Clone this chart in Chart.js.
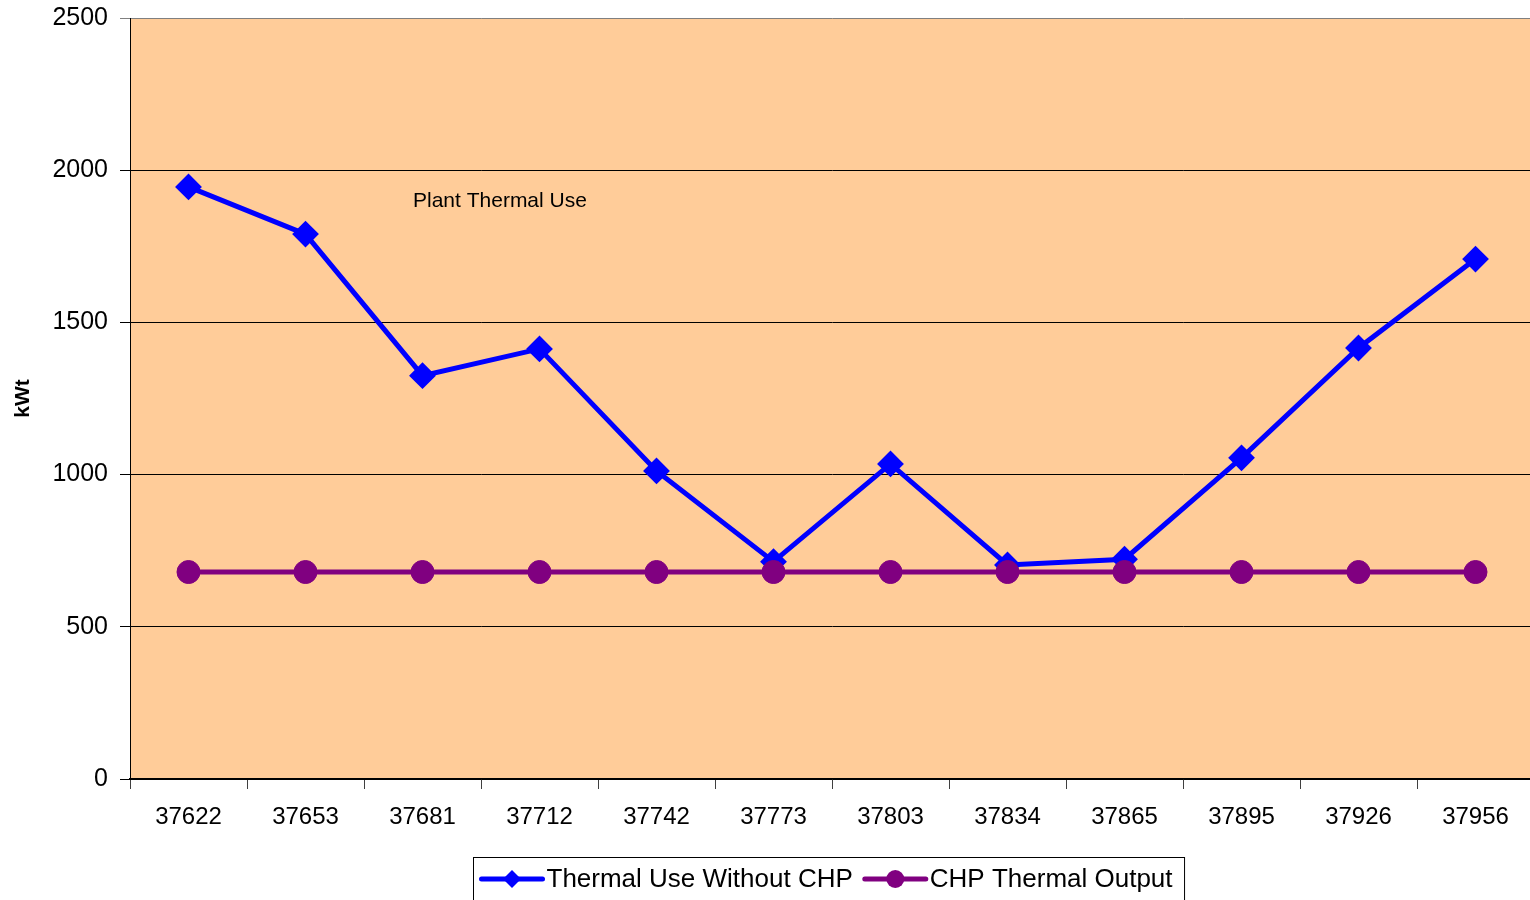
<!DOCTYPE html>
<html>
<head>
<meta charset="utf-8">
<script src="https://cdn.jsdelivr.net/npm/chart.js@4"></script>
<style>
  html, body { margin: 0; padding: 0; background: #fff; overflow: hidden; }
  #wrap { width: 1530px; height: 900px; overflow: hidden; }
</style>
</head>
<body>
<div id="wrap"><canvas id="chart" width="1548" height="900"></canvas></div>
<script>
const categories = ['37622', '37653', '37681', '37712', '37742', '37773', '37803', '37834', '37865', '37895', '37926', '37956'];
const thermalUseWithoutChp = [1945, 1790, 1325, 1413, 1012, 714, 1035, 703, 722, 1055, 1416, 1708];
const chpThermalOutput = [680, 680, 680, 680, 680, 680, 680, 680, 680, 680, 680, 680];
const yTicks = [0, 500, 1000, 1500, 2000, 2500];
const annotationText = 'Plant Thermal Use';

const FONT = "'Liberation Sans', Arial, sans-serif";
const BLUE = '#0000FF', PURPLE = '#800080';

// plot background
const plotBg = {
    id: 'plotBg',
    beforeDraw: (chart) => {
        const { ctx, chartArea: a } = chart;
        ctx.save();
        ctx.fillStyle = '#FFCC99';
        ctx.fillRect(a.left, a.top, a.right - a.left, a.bottom - a.top);
        ctx.restore();
    }
};

// text inside the plot + legend box underneath
const extras = {
    id: 'extras',
    afterDraw: (chart) => {
        const { ctx, chartArea: a } = chart;
        ctx.save();
        ctx.fillStyle = '#000';
        ctx.font = `21px ${FONT}`;
        ctx.textAlign = 'left'; ctx.textBaseline = 'middle';
        ctx.fillText(annotationText, a.left + 283, 201);

        // legend
        const items = chart.data.datasets;
        ctx.font = `26px ${FONT}`;
        const lineW = 61, txtGap = 4, itemGap = 12;
        const widths = items.map(d => lineW + txtGap + ctx.measureText(d.label).width);
        const total = 8 + widths[0] + itemGap + widths[1] + 12;
        const cx = (a.left + a.right) / 2 - 3;
        const bx = Math.round(cx - total / 2) + 0.5, by = 857.5;
        ctx.strokeStyle = '#000'; ctx.lineWidth = 1;
        ctx.strokeRect(bx, by, total, 60);
        let x = bx + 8;
        const y = 879;
        items.forEach((d, i) => {
            ctx.strokeStyle = d.borderColor; ctx.lineWidth = 5; ctx.lineCap = 'round';
            ctx.beginPath(); ctx.moveTo(x, y); ctx.lineTo(x + lineW, y); ctx.stroke();
            const mx = x + lineW / 2;
            ctx.fillStyle = d.borderColor;
            ctx.beginPath();
            if (d.pointStyle === 'rectRot') {
                ctx.moveTo(mx - 9, y); ctx.lineTo(mx, y - 9); ctx.lineTo(mx + 9, y); ctx.lineTo(mx, y + 9);
                ctx.closePath();
            } else {
                ctx.arc(mx, y, 9, 0, Math.PI * 2);
            }
            ctx.fill();
            ctx.fillStyle = '#000';
            ctx.textBaseline = 'middle';
            ctx.fillText(d.label, x + lineW + txtGap, y + 1);
            x += widths[i] + itemGap;
        });
        ctx.restore();
    }
};

new Chart(document.getElementById('chart'), {
    type: 'line',
    data: {
        labels: categories,
        datasets: [
            { label: 'Thermal Use Without CHP', data: thermalUseWithoutChp, borderColor: BLUE, backgroundColor: BLUE,
              borderWidth: 5, pointStyle: 'rectRot', pointRadius: 12, pointBorderWidth: 2, pointHoverRadius: 12, tension: 0, order: 1 },
            { label: 'CHP Thermal Output', data: chpThermalOutput, borderColor: PURPLE, backgroundColor: PURPLE,
              borderWidth: 5, pointStyle: 'circle', pointRadius: 11.5, pointBorderWidth: 1, pointHoverRadius: 11.5, tension: 0, order: 0 }
        ]
    },
    options: {
        responsive: false,
        animation: false,
        layout: { padding: { top: 18, right: 0, left: 0, bottom: 0 } },
        plugins: { legend: { display: false }, tooltip: { enabled: false } },
        scales: {
            x: {
                offset: true,
                grid: { offset: true, drawOnChartArea: false, drawTicks: true, tickLength: 10, color: '#404040' },
                border: { color: '#000', width: 1.5 },
                ticks: { color: '#000', font: { family: FONT, size: 24 }, padding: 14, maxRotation: 0, autoSkip: false },
                afterFit: (s) => { s.height = 121; s.paddingLeft = 0; s.paddingRight = 0; }
            },
            y: {
                min: 0, max: 2500,
                afterBuildTicks: (s) => { s.ticks = yTicks.map(v => ({ value: v })); },
                grid: { color: (c) => c.tick && c.tick.value === 2500 ? '#808080' : '#000', lineWidth: 1, tickLength: 10 },
                border: { color: '#000', width: 1 },
                ticks: { color: '#000', font: { family: FONT, size: 25 }, padding: 12, callback: (v) => String(v) },
                title: { display: true, text: 'kWt', color: '#000', font: { family: FONT, size: 21, weight: 'bold' }, padding: { top: 11, bottom: 0 } },
                afterFit: (s) => { s.width = 130; s.paddingTop = 0; s.paddingBottom = 0; }
            }
        }
    },
    plugins: [plotBg, extras]
});
</script>
</body>
</html>
